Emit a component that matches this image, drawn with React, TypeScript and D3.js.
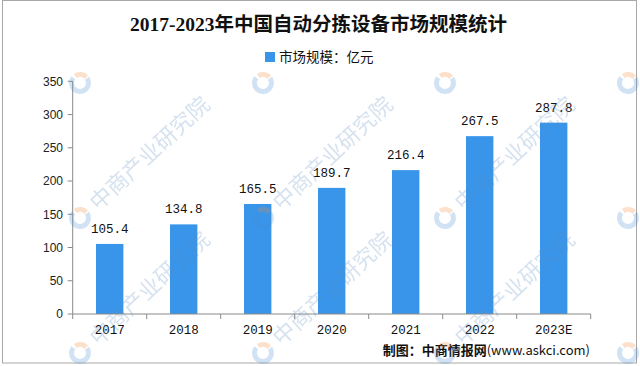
import React from "react";
import * as d3 from "d3";

const years = ["2017", "2018", "2019", "2020", "2021", "2022", "2023E"];
const marketSize = [105.4, 134.8, 165.5, 189.7, 216.4, 267.5, 287.8];
const yTicks = [0, 50, 100, 150, 200, 250, 300, 350];

const title = "2017-2023年中国自动分拣设备市场规模统计";
const legendLabel = "市场规模：亿元";
const watermark = "中商产业研究院";

const W = 640;
const H = 366;
const left = 72.7;
const right = 590.7;
const top = 81.3;
const bottom = 314;
const barColor = "#3895EA";
const axisColor = "#8a8a8a";

// watermark grid (logo positions); text only where it fits inside the frame
const wmX = [80, 263, 445, 628];
const wmY = [83, 218, 353];

const App = () => {
  const x = d3
    .scaleBand<string>()
    .domain(years)
    .range([left, right])
    .paddingInner(0.63)
    .paddingOuter(0.315);
  const step = x.step();

  const y = d3.scaleLinear().domain([0, 350]).range([bottom, top]);

  const cjk = "'Noto Sans CJK SC', sans-serif";

  return (
    <div style={{ position: "fixed", left: 0, top: 0 }}>
      <svg width={W} height={H} style={{ display: "block", background: "#fff" }}>
        <rect x={2.5} y={0.5} width={634} height={362.5} fill="none" stroke="#a8a8a8" />

        <text
          x={318.5}
          y={31}
          textAnchor="middle"
          fontSize={19.5}
          fontWeight="bold"
          fill="#111"
          style={{ fontFamily: "'Liberation Serif', 'Noto Sans CJK SC', serif" }}
        >
          {title}
        </text>

        <rect x={265} y={52} width={10} height={10} fill={barColor} />
        <text x={279} y={62} fontSize={13.5} fill="#111" style={{ fontFamily: cjk }}>
          {legendLabel}
        </text>

        {/* y axis */}
        <line x1={left} x2={left} y1={top} y2={bottom} stroke={axisColor} />
        {yTicks.map((t) => (
          <g key={t}>
            <line x1={left - 5} x2={left} y1={y(t)} y2={y(t)} stroke={axisColor} />
            <text
              x={63}
              y={y(t) + 4.3}
              textAnchor="end"
              fontSize={12}
              fill="#222"
              style={{ fontFamily: "'Liberation Sans', Arial, sans-serif" }}
            >
              {t}
            </text>
          </g>
        ))}

        {/* bars */}
        {years.map((yr, i) => (
          <g key={yr}>
            <rect
              x={x(yr)}
              y={y(marketSize[i])}
              width={x.bandwidth()}
              height={bottom - y(marketSize[i])}
              fill={barColor}
            />
            <text
              x={(x(yr) as number) + x.bandwidth() / 2}
              y={y(marketSize[i]) - 11}
              textAnchor="middle"
              fontSize={12.5}
              fill="#111"
              style={{ fontFamily: "'Liberation Mono', monospace" }}
            >
              {marketSize[i].toFixed(1)}
            </text>
            <text
              x={(x(yr) as number) + x.bandwidth() / 2}
              y={334}
              textAnchor="middle"
              fontSize={12.5}
              fill="#111"
              style={{ fontFamily: "'Liberation Mono', monospace" }}
            >
              {yr}
            </text>
          </g>
        ))}

        {/* x axis */}
        <line x1={left} x2={right} y1={bottom} y2={bottom} stroke={axisColor} />
        {d3.range(years.length + 1).map((i) => (
          <line
            key={i}
            x1={left + i * step}
            x2={left + i * step}
            y1={bottom}
            y2={bottom + 5}
            stroke={axisColor}
          />
        ))}

        <text x={590} y={355} textAnchor="end" fontSize={13} fill="#111" style={{ fontFamily: cjk }}>
          <tspan fontWeight="bold">制图：中商情报网</tspan>
          <tspan>(www.askci.com)</tspan>
        </text>

        {/* watermark */}
        <g opacity={0.26} pointerEvents="none">
          {wmX.map((wx) =>
            wmY.map((wy) => (
              <g key={`${wx}-${wy}`} transform={`translate(${wx},${wy}) rotate(-43)`}>
                <path
                  d={d3.arc()({ innerRadius: 6, outerRadius: 11, startAngle: Math.PI * 0.55, endAngle: Math.PI * 1.95 }) as string}
                  fill="#4a8fd0"
                />
                <path
                  d={d3.arc()({ innerRadius: 6, outerRadius: 11, startAngle: Math.PI * 0.05, endAngle: Math.PI * 0.5 }) as string}
                  fill="#f08a3c"
                />
                {wx < 600 && wy > 100 && (
                  <text x={18} y={8} fontSize={22} fill="#5f8fc0" style={{ fontFamily: cjk }}>
                    {watermark}
                  </text>
                )}
              </g>
            ))
          )}
        </g>
      </svg>
    </div>
  );
};

export default App;
